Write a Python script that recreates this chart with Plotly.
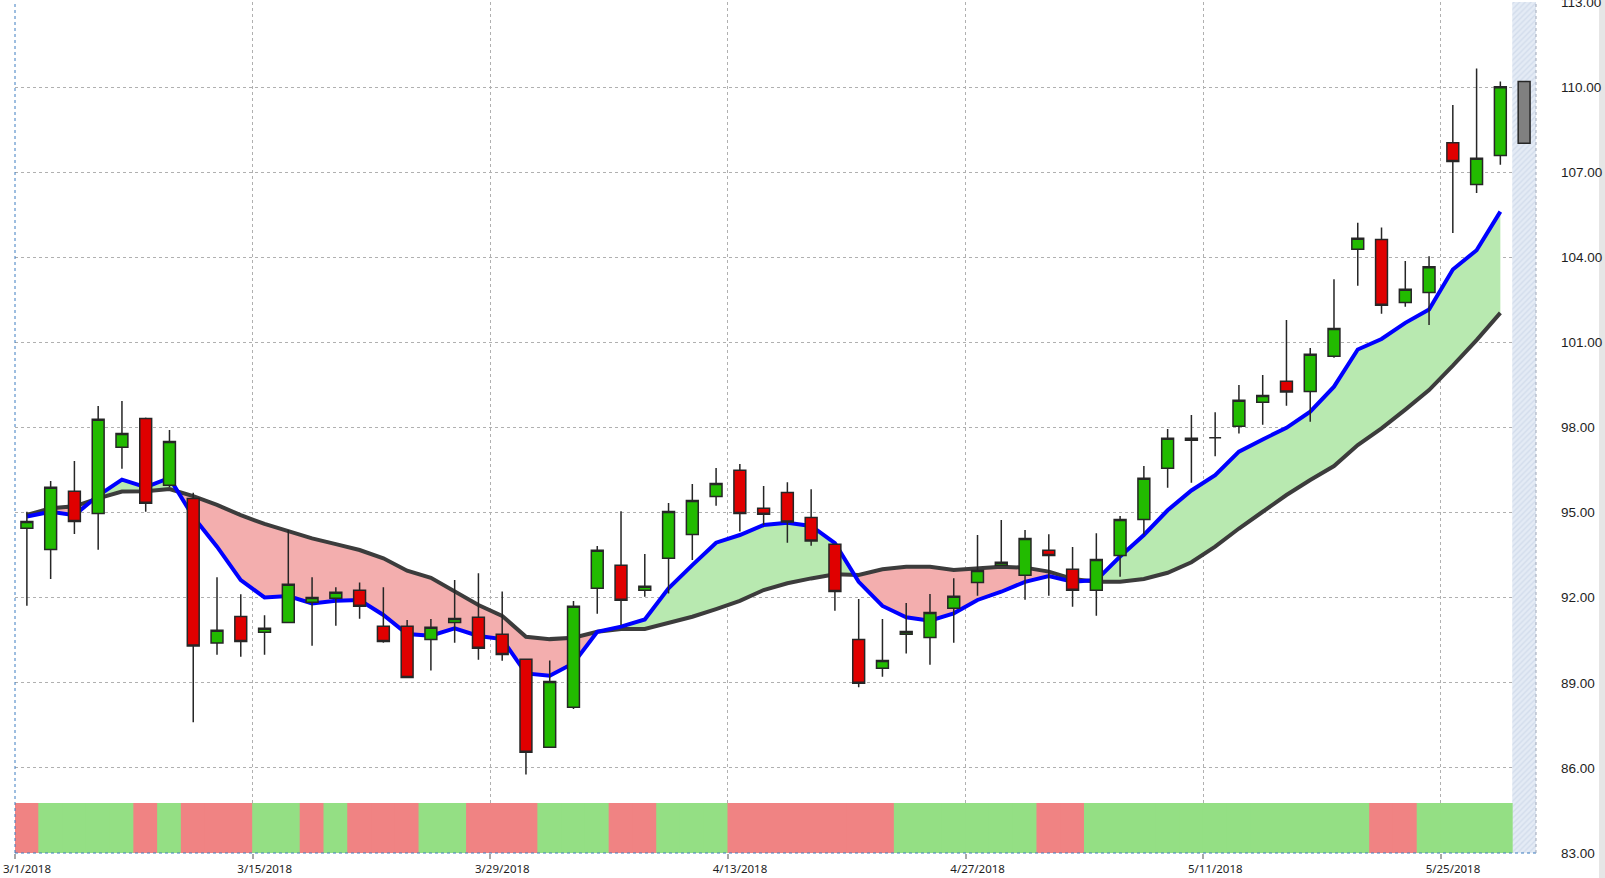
import plotly.graph_objects as go

# ---------------- data ----------------
opens = [94.45, 93.70, 95.75, 94.97, 97.30, 98.32, 95.96, 95.50, 90.40, 91.34,
         90.78, 91.13, 91.84, 91.98, 92.26, 90.99, 90.99, 90.53, 91.13, 91.31,
         90.71, 89.83, 86.73, 88.14, 92.33, 93.14, 92.26, 93.39, 94.23, 95.57,
         96.49, 95.15, 95.71, 94.83, 93.88, 90.53, 89.51, 90.71, 90.60, 91.63,
         92.54, 93.14, 92.79, 93.67, 93.00, 92.26, 93.49, 94.76, 96.56, 97.55,
         97.64, 98.04, 98.89, 99.63, 99.27, 100.51, 104.28, 104.63, 102.41, 102.76,
         108.04, 106.57, 107.59]
highs = [95.03, 96.11, 96.82, 98.76, 98.93, 98.35, 97.91, 95.70, 92.72, 92.12,
         91.38, 94.39, 92.72, 92.37, 92.54, 92.37, 91.21, 91.25, 92.62, 92.86,
         92.22, 89.86, 89.79, 91.88, 93.82, 95.05, 93.54, 95.34, 96.01, 96.57,
         96.71, 95.94, 96.07, 95.82, 93.90, 91.95, 91.25, 91.81, 92.13, 92.69,
         94.21, 94.74, 94.39, 94.24, 93.79, 94.27, 94.88, 96.64, 97.95, 98.44,
         98.54, 99.50, 99.85, 101.79, 100.80, 103.23, 105.22, 105.05, 103.87, 104.04,
         109.37, 110.66, 110.20]
lows = [91.72, 92.66, 94.25, 93.69, 96.55, 95.03, 95.90, 87.61, 89.99, 89.92,
        89.99, 91.10, 90.31, 91.01, 91.26, 90.41, 89.19, 89.43, 90.41, 89.81,
        89.78, 85.77, 86.73, 88.08, 91.43, 91.04, 92.03, 92.15, 93.33, 95.24,
        94.33, 94.56, 93.94, 93.83, 91.54, 88.84, 89.21, 90.03, 89.64, 90.41,
        92.07, 93.14, 91.93, 92.07, 91.68, 91.36, 92.74, 94.23, 95.88, 96.05,
        96.99, 97.79, 98.10, 98.77, 98.20, 100.46, 103.00, 102.01, 102.26, 101.61,
        104.86, 106.27, 107.26]
closes = [94.69, 95.89, 94.69, 98.29, 97.79, 95.33, 97.51, 90.30, 90.85, 90.46,
          90.92, 92.47, 92.01, 92.19, 91.70, 90.46, 89.19, 90.96, 91.27, 90.22,
          90.00, 86.55, 89.05, 91.70, 93.67, 91.91, 92.40, 95.04, 95.43, 96.03,
          94.97, 94.94, 94.67, 94.00, 92.22, 88.98, 89.79, 90.81, 91.48, 92.05,
          92.96, 93.25, 94.09, 93.49, 92.26, 93.35, 94.76, 96.21, 97.62, 97.62,
          97.64, 98.96, 99.13, 99.25, 100.58, 101.49, 104.67, 102.31, 102.87, 103.67,
          107.38, 107.49, 110.01]

fast_avg = [94.86, 95.03, 94.91, 95.60, 96.16, 95.90, 96.22, 94.85, 93.80, 92.62,
            92.01, 92.06, 91.80, 91.89, 91.92, 91.39, 90.72, 90.66, 90.92, 90.65,
            90.54, 89.33, 89.25, 89.69, 90.80, 90.98, 91.23, 92.33, 93.15, 93.94,
            94.21, 94.56, 94.64, 94.53, 93.92, 92.56, 91.71, 91.31, 91.19, 91.45,
            91.92, 92.21, 92.56, 92.76, 92.56, 92.62, 93.45, 94.21, 95.08, 95.78,
            96.32, 97.15, 97.58, 97.99, 98.56, 99.44, 100.75, 101.12, 101.69, 102.16,
            103.57, 104.25, 105.61]
slow_avg = [94.92, 95.15, 95.22, 95.50, 95.74, 95.75, 95.83, 95.58, 95.27, 94.91,
            94.60, 94.35, 94.09, 93.89, 93.68, 93.39, 92.95, 92.70, 92.21, 91.74,
            91.36, 90.62, 90.54, 90.59, 90.80, 90.90, 90.90, 91.10, 91.33, 91.60,
            91.89, 92.27, 92.51, 92.68, 92.83, 92.80, 93.00, 93.09, 93.09, 92.98,
            93.04, 93.09, 93.06, 92.92, 92.66, 92.56, 92.56, 92.66, 92.88, 93.25,
            93.80, 94.44, 95.03, 95.62, 96.15, 96.64, 97.38, 97.97, 98.63, 99.32,
            100.18, 101.08, 102.04]

# bottom signal band: 1 = green, 0 = red
signal = [0, 1, 1, 1, 1, 0, 1, 0, 0, 0,
          1, 1, 0, 1, 0, 0, 0, 1, 1, 0,
          0, 0, 1, 1, 1, 0, 0, 1, 1, 1,
          0, 0, 0, 0, 0, 0, 0, 1, 1, 1,
          1, 1, 1, 0, 0, 1, 1, 1, 1, 1,
          1, 1, 1, 1, 1, 1, 1, 0, 0, 1,
          1, 1, 1]

# in-progress (grey) candle in the shaded last slot
pending_low = 108.02
pending_high = 110.20

tick_labels = ["3/1/2018", "3/15/2018", "3/29/2018", "4/13/2018",
               "4/27/2018", "5/11/2018", "5/25/2018"]
tick_slots = [0, 10, 20, 30, 40, 50, 60]

y_ticks = [83, 86, 89, 92, 95, 98, 101, 104, 107, 110, 113]

# ---------------- figure ----------------
n = len(closes)
idx = list(range(n))
pending_slot = n
Y_MIN, Y_MAX = 83, 113
BAND_TOP = 84.76

fig = go.Figure()

# shaded (hatched) last slot
fig.add_trace(go.Bar(
    x=[pending_slot], base=[Y_MIN], y=[Y_MAX - Y_MIN], width=1,
    marker=dict(color="#E2E9F3", line=dict(width=0),
                pattern=dict(shape="/", fgcolor="#C0CEE2", bgcolor="#E4EBF5",
                             size=4, solidity=0.35)),
    hoverinfo="skip", showlegend=False))

# signal band
fig.add_trace(go.Bar(
    x=idx, base=[Y_MIN] * n, y=[BAND_TOP - Y_MIN] * n, width=1.04,
    marker=dict(color=["#94DF84" if s else "#F08383" for s in signal],
                line=dict(width=0)),
    hoverinfo="skip", showlegend=False))


# fills between the two averages
def sign(v):
    return 1 if v > 0 else (-1 if v < 0 else 0)


def regions(xs, a, b):
    out = []
    cx, ca, cb = [xs[0]], [a[0]], [b[0]]
    cs = sign(a[0] - b[0])
    for i in range(1, len(xs)):
        s = sign(a[i] - b[i])
        if cs != 0 and s != 0 and s != cs:
            d0 = a[i - 1] - b[i - 1]
            d1 = a[i] - b[i]
            t = d0 / (d0 - d1)
            xc = xs[i - 1] + t * (xs[i] - xs[i - 1])
            yc = a[i - 1] + t * (a[i] - a[i - 1])
            cx.append(xc); ca.append(yc); cb.append(yc)
            out.append((cs, cx, ca, cb))
            cx, ca, cb = [xc, xs[i]], [yc, a[i]], [yc, b[i]]
            cs = s
        else:
            cx.append(xs[i]); ca.append(a[i]); cb.append(b[i])
            if cs == 0:
                cs = s
    out.append((cs, cx, ca, cb))
    return out


for s, cx, ca, cb in regions(idx, fast_avg, slow_avg):
    fig.add_trace(go.Scatter(
        x=cx + cx[::-1], y=ca + cb[::-1], mode="lines", fill="toself",
        fillcolor="#B8E9B0" if s >= 0 else "#F3AEAE",
        line=dict(width=0), hoverinfo="skip", showlegend=False))

fig.add_trace(go.Scatter(x=idx, y=slow_avg, mode="lines",
                         line=dict(color="#3C3C3C", width=4),
                         showlegend=False))
fig.add_trace(go.Scatter(x=idx, y=fast_avg, mode="lines",
                         line=dict(color="#0000FF", width=4),
                         showlegend=False))

# candles on an overlaying subplot so they sit above the lines
fig.add_trace(go.Candlestick(
    x=idx, open=opens, high=highs, low=lows, close=closes,
    increasing=dict(fillcolor="#22BB00", line=dict(color="#262626", width=1.5)),
    decreasing=dict(fillcolor="#E00000", line=dict(color="#262626", width=1.5)),
    whiskerwidth=0, xaxis="x2", yaxis="y2", showlegend=False))

fig.add_trace(go.Bar(
    x=[pending_slot], base=[pending_low], y=[pending_high - pending_low], width=0.5,
    marker=dict(color="#808080", line=dict(color="#262626", width=1.5)),
    xaxis="x2", yaxis="y2", showlegend=False))

x_range = [-0.5, pending_slot + 0.5]
grid = dict(showgrid=True, gridcolor="#B0B0B0", gridwidth=1, griddash="dot")

fig.update_layout(
    width=1605, height=878,
    margin=dict(l=15, r=69, t=2, b=25, autoexpand=False),
    paper_bgcolor="white", plot_bgcolor="white",
    barmode="overlay", boxgap=0.5, boxgroupgap=0,
    showlegend=False,
    xaxis=dict(range=x_range, tickvals=[t - 0.5 for t in tick_slots],
               ticktext=tick_labels, ticklabelshift=12,
               ticks="outside", ticklen=5, tickwidth=2, tickcolor="#A8A8A8",
               tickfont=dict(family="Noto Sans", size=11.5, color="#1E1E1E"),
               zeroline=False, showline=False, rangeslider=dict(visible=False),
               ticklabeloverflow="allow", automargin=False, **grid),
    yaxis=dict(range=[Y_MIN, Y_MAX], side="right", tickvals=y_ticks,
               tickformat=".2f", ticks="", ticklabelstandoff=24,
               ticklabeloverflow="allow", automargin=False,
               tickfont=dict(family="Liberation Sans Narrow, Liberation Sans",
                             size=13.5, color="#1E1E1E"),
               zeroline=False, showline=False, **grid),
    xaxis2=dict(range=x_range, overlaying="x", visible=False,
                rangeslider=dict(visible=False)),
    yaxis2=dict(range=[Y_MIN, Y_MAX], overlaying="y", visible=False),
    shapes=[
        dict(type="line", xref="paper", yref="paper", x0=0, x1=0, y0=0, y1=1,
             line=dict(color="#3D7CC0", width=1, dash="dot"), layer="above"),
        dict(type="line", xref="paper", yref="paper", x0=0, x1=1, y0=0, y1=0,
             line=dict(color="#3D7CC0", width=1, dash="dot"), layer="above"),
        dict(type="line", xref="paper", yref="paper", x0=1, x1=1, y0=0, y1=1,
             line=dict(color="#A0A8B8", width=1, dash="dot"), layer="above"),
        dict(type="rect", xref="paper", yref="paper",
             x0=(1599 - 15) / 1521, x1=(1606 - 15) / 1521,
             y0=-25 / 851, y1=1 + 3 / 851,
             fillcolor="#E6E6E6", line=dict(width=0), layer="below"),
    ],
)

fig.write_html("out.html")
